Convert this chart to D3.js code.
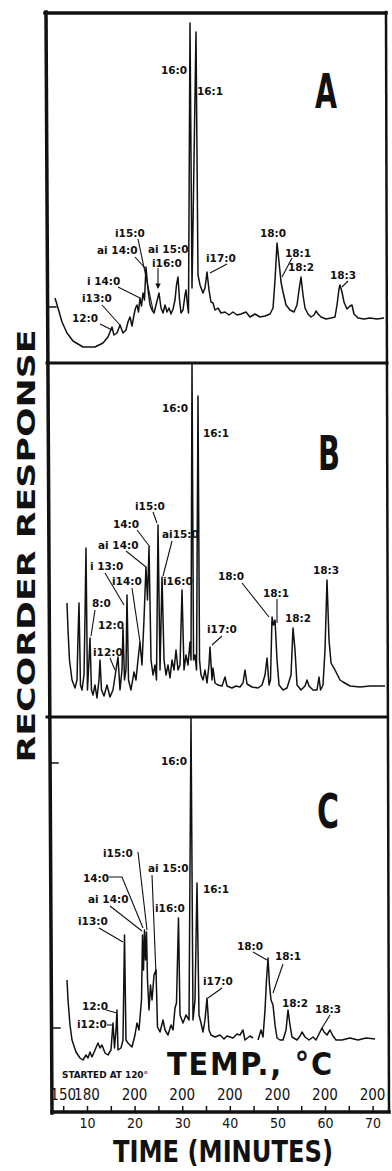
<!DOCTYPE html>
<html>
<head>
<meta charset="utf-8">
<script src="https://cdn.jsdelivr.net/npm/d3@7"></script>
<style>
  body { margin: 0; background: #fff; }
  .lab { font-family: "DejaVu Sans", sans-serif; font-weight: bold; font-size: 10.5px; fill: #111; }
  .heavy { font-family: "DejaVu Sans Condensed", "Liberation Sans Narrow", sans-serif; font-weight: bold; fill: #111; }
  .num { font-family: "DejaVu Sans Condensed", "DejaVu Sans", sans-serif; font-size: 14px; fill: #111; }
</style>
</head>
<body>
<svg id="chart" width="392" height="1171"></svg>
<script>
// retention time (minutes) and recorder response (chart units above each panel floor)
const timesA = [3.28,3.91,4.75,5.80,7.06,9.16,11.68,13.36,14.41,14.83,15.25,15.67,16.30,16.93,17.56,18.19,18.61,19.03,19.45,19.87,20.19,20.50,20.82,21.13,21.45,21.76,22.08,22.39,22.82,23.24,23.66,24.08,24.50,25.13,25.55,25.97,26.39,26.81,27.23,27.65,28.07,28.49,28.80,29.12,29.44,29.75,30.17,30.59,30.80,31.11,31.32,31.64,32.06,32.90,33.32,33.74,34.37,34.79,35.21,35.63,36.05,36.47,36.89,37.52,38.15,38.99,39.83,40.67,41.51,42.35,43.40,44.24,45.29,46.35,47.40,48.45,49.08,49.50,49.92,50.34,50.76,51.18,51.81,52.65,53.49,54.12,54.54,54.96,55.38,55.80,56.43,57.06,57.69,58.11,58.53,59.16,60.21,61.26,62.10,62.52,62.94,63.15,63.57,63.99,64.62,65.25,65.67,66.09,66.93,68.19,69.45,70.92,72.40];
const respA = [65,55,41,30,22,16,16,20,26,31,36,28,30,38,30,33,41,46,37,48,55,58,51,65,57,70,63,96,73,58,53,50,58,70,55,50,58,51,55,49,54,63,78,86,63,50,53,68,73,58,50,340,75,331,88,78,70,75,91,73,61,60,53,55,50,51,48,51,48,49,51,46,49,46,47,49,55,83,120,101,81,71,58,53,51,58,73,86,68,55,49,46,48,52,49,46,44,45,46,58,74,78,71,61,54,57,58,49,45,44,45,44,45];

const timesB = [5.80,6.01,6.32,6.85,7.48,7.90,8.11,8.32,8.63,8.95,9.37,9.58,9.79,10.10,10.42,10.63,10.94,11.26,11.68,12.10,12.52,12.73,13.05,13.57,14.20,14.83,15.46,16.09,16.51,16.93,17.35,17.56,17.88,18.19,18.40,18.72,19.24,19.87,20.29,20.71,21.13,21.55,21.97,22.39,22.71,23.03,23.45,23.87,24.29,24.60,24.92,25.34,25.76,26.18,26.60,27.02,27.44,27.86,28.28,28.70,29.12,29.54,29.96,30.38,30.80,31.22,31.64,31.85,32.06,32.38,32.69,33.01,33.32,33.64,33.95,34.37,34.79,35.21,35.63,35.84,36.26,36.47,36.89,37.52,38.36,38.99,39.41,40.46,41.30,42.14,42.77,43.19,43.61,44.67,45.93,46.77,47.40,47.82,48.24,48.55,48.87,49.18,49.50,49.92,50.34,51.18,52.02,52.86,53.28,53.70,54.12,54.96,55.80,56.22,56.64,57.48,58.32,58.74,59.06,59.58,60.00,60.42,60.84,61.27,62.10,63.16,63.79,65.26,67.36,69.46,72.61];
const respB = [114,87,57,37,29,37,80,114,32,27,42,100,169,27,57,79,27,22,32,19,37,57,27,21,32,20,27,47,60,27,47,89,37,47,122,37,27,45,37,57,75,52,97,150,117,170,57,42,52,37,192,47,140,57,42,52,39,57,47,67,47,52,127,47,62,52,75,57,354,57,62,47,321,57,42,37,47,34,52,70,37,49,34,32,31,40,31,29,31,30,34,47,33,30,29,32,42,59,32,37,100,92,97,57,32,27,29,42,89,67,32,27,31,37,31,27,27,40,27,32,67,137,77,54,47,37,35,31,30,31,31];

// null = pen lifted
const timesC = [5.80,6.01,6.43,6.85,7.69,8.53,9.16,9.79,10.21,10.63,11.05,11.68,12.31,12.73,13.15,13.78,14.41,15.04,15.46,15.78,16.09,16.30,16.51,17.14,17.56,17.88,18.19,18.61,19.45,20.08,20.50,20.92,21.13,21.45,21.66,21.87,22.08,22.29,22.50,22.71,23.03,23.34,23.66,24.08,24.50,24.81,25.34,25.97,26.39,27.02,27.65,28.07,28.49,28.80,29.22,29.54,30.17,30.80,31.43,31.85,32.27,32.69,33.11,33.53,33.95,34.37,34.79,35.21,35.63,36.05,36.89,37.94,38.78,39.41,40.67,41.51,42.14,42.77,43.19,44.24,44.88,45.40,45.93,46.56,46.98,47.40,47.71,48.03,48.34,48.66,49.08,49.50,49.92,50.55,51.18,51.81,52.23,52.65,53.07,54.12,54.75,55.17,55.80,56.64,57.48,58.11,58.95,59.37,59.79,60.42,61.05,61.68,62.31,63.57,65.25,66.94,68.62,70.51];
const respC = [132,112,87,72,60,54,52,57,54,60,55,62,69,64,67,59,57,62,89,64,82,102,62,64,72,177,72,69,65,77,89,82,94,112,177,142,182,152,180,132,102,127,112,137,142,85,80,92,82,77,87,82,104,109,194,97,89,97,92,395,92,112,229,97,89,80,92,114,82,77,75,77,73,76,74,78,77,82,72,76,74,null,72,82,75,102,132,154,127,112,107,87,74,72,72,82,102,87,75,72,76,80,75,72,75,72,80,84,80,77,82,76,72,72,74,72,74,73];

const timeTicks = [5,10,15,20,25,30,35,40,45,50,55,60,65,70];
const timeLabels = [10,20,30,40,50,60,70];
const tempTimes = [5,10,20,30,40,50,60,70];
const tempLabels = ["150","180","200","200","200","200","200","200"];
const panelLetters = ["A","B","C"];

// peak annotations: [text, x, y, anchor, pointer points, arrow]
const notesA = [
  ["16:0",187,74,"end"],["16:1",197,95,"start"],
  ["i15:0",115,237,"start",[[138,239],[153,310]]],
  ["ai 14:0",97,254,"start",[[135,257],[145,268]]],
  ["ai 15:0",148,253,"start",[[158,268],[158,288]],true],
  ["i16:0",152,267,"start"],
  ["i17:0",206,262,"start",[[227,264],[210,273]]],
  ["i 14:0",87,285,"start",[[118,287],[140,298]]],
  ["i13:0",82,302,"start",[[102,305],[120,325]]],
  ["12:0",72,322,"start",[[100,324],[112,330]]],
  ["18:0",260,237,"start"],
  ["18:1",285,257,"start",[[292,258],[282,277]]],
  ["18:2",288,271,"start"],
  ["18:3",330,279,"start",[[348,281],[342,287]]]
];
const notesB = [
  ["16:0",188,412,"end"],["16:1",203,437,"start"],
  ["i15:0",135,510,"start",[[153,512],[157,523]]],
  ["14:0",113,528,"start",[[137,530],[150,547]]],
  ["ai15:0",162,538,"start",[[172,541],[163,576]]],
  ["ai 14:0",98,549,"start",[[126,551],[146,567]]],
  ["i 13:0",90,570,"start",[[105,573],[124,605]]],
  ["i14:0",112,585,"start",[[132,588],[140,642]]],
  ["i16:0",163,585,"start"],
  ["8:0",92,607,"start",[[95,610],[91,636]]],
  ["12:0",98,629,"start"],
  ["i12:0",93,656,"start",[[110,658],[115,670]]],
  ["i17:0",207,633,"start",[[222,636],[212,645]]],
  ["18:0",218,580,"start",[[242,583],[269,617]]],
  ["18:1",263,597,"start",[[277,599],[277,623]]],
  ["18:2",285,622,"start"],
  ["18:3",313,574,"start"]
];
const notesC = [
  ["16:0",187,765,"end"],["16:1",203,893,"start"],
  ["i15:0",103,857,"start",[[138,852],[147,930]]],
  ["ai 15:0",148,872,"start",[[152,875],[156,975]]],
  ["14:0",83,882,"start",[[109,877],[122,877],[143,928]]],
  ["ai 14:0",88,903,"start",[[110,906],[142,931]]],
  ["i16:0",155,912,"start"],
  ["i13:0",78,925,"start",[[99,928],[123,942]]],
  ["18:0",237,950,"start",[[253,952],[267,960]]],
  ["18:1",275,960,"start",[[283,964],[273,993]]],
  ["i17:0",203,985,"start",[[222,988],[208,998]]],
  ["18:2",282,1007,"start"],
  ["18:3",315,1013,"start",[[330,1015],[322,1028]]],
  ["12:0",82,1010,"start",[[106,1010],[117,1013]]],
  ["i12:0",77,1028,"start",[[107,1025],[113,1025]]]
];

const svg = d3.select("#chart");
const ink = "#111";

svg.append("defs").append("marker")
  .attr("id", "arrow").attr("viewBox", "0 0 6 6").attr("refX", 5).attr("refY", 3)
  .attr("markerWidth", 5).attr("markerHeight", 5).attr("orient", "auto")
  .append("path").attr("d", "M0,0L6,3L0,6Z").attr("fill", ink);

const x = d3.scaleLinear().domain([10, 70]).range([87, 372.6]);

const panels = [
  { times: timesA, resp: respA, top: 13, bottom: 363, notes: notesA, letterX: 326, letterY: 108 },
  { times: timesB, resp: respB, top: 363, bottom: 717, notes: notesB, letterX: 329, letterY: 470 },
  { times: timesC, resp: respC, top: 717, bottom: 1112, notes: notesC, letterX: 328, letterY: 828 }
];

const pointerLine = d3.line();

panels.forEach((p, i) => {
  const y = d3.scaleLinear().domain([0, p.bottom - p.top]).range([p.bottom, p.top]);
  const pts = p.times.map((t, j) => [t, p.resp[j]]);
  const line = d3.line()
    .defined(d => d[1] != null)
    .x(d => x(d[0]))
    .y(d => y(d[1]));

  const g = svg.append("g");
  g.append("path")
    .datum(pts)
    .attr("d", line)
    .attr("fill", "none")
    .attr("stroke", ink)
    .attr("stroke-width", 1.5)
    .attr("stroke-linejoin", "round");

  g.selectAll("text.lab")
    .data(p.notes)
    .join("text")
    .attr("class", "lab")
    .attr("x", d => d[1])
    .attr("y", d => d[2])
    .attr("text-anchor", d => d[3])
    .text(d => d[0]);

  g.selectAll("path.ptr")
    .data(p.notes.filter(d => d[4]))
    .join("path")
    .attr("class", "ptr")
    .attr("d", d => pointerLine(d[4]))
    .attr("fill", "none")
    .attr("stroke", ink)
    .attr("stroke-width", 1.1)
    .attr("marker-end", d => d[5] ? "url(#arrow)" : null);

  g.append("text")
    .attr("class", "heavy")
    .attr("x", p.letterX)
    .attr("y", p.letterY)
    .attr("text-anchor", "middle")
    .attr("font-size", 48)
    .attr("textLength", 22)
    .attr("lengthAdjust", "spacingAndGlyphs")
    .text(panelLetters[i]);
});

// frame
const frame = svg.append("g").attr("stroke", ink).attr("fill", "none").attr("stroke-linecap", "square");
frame.append("line").attr("x1", 45).attr("y1", 13).attr("x2", 386).attr("y2", 13).attr("stroke-width", 3.5);
frame.append("line").attr("x1", 46).attr("y1", 12).attr("x2", 52).attr("y2", 1113).attr("stroke-width", 3.5);
frame.append("line").attr("x1", 386).attr("y1", 12).attr("x2", 389).attr("y2", 1112).attr("stroke-width", 2.5);
[363, 717].forEach(yy => {
  frame.append("line").attr("x1", 47).attr("y1", yy).attr("x2", 387).attr("y2", yy).attr("stroke-width", 3);
});
frame.append("line").attr("x1", 52).attr("y1", 1112).attr("x2", 389).attr("y2", 1112).attr("stroke-width", 3.5);
[[48, 307], [50, 763], [52, 1028]].forEach(([xx, yy]) => {
  frame.append("line").attr("x1", xx).attr("y1", yy).attr("x2", xx + 8).attr("y2", yy).attr("stroke-width", 1.5);
});

// time axis: ticks point up, labels below
const tickAxis = svg.append("g")
  .attr("transform", "translate(0,1112)")
  .call(d3.axisTop(x).tickValues(timeTicks).tickSizeInner(6).tickSizeOuter(0).tickFormat(""));
tickAxis.select(".domain").remove();
tickAxis.selectAll(".tick line").attr("stroke", ink).attr("stroke-width", 1.5);

const labAxis = svg.append("g")
  .attr("transform", "translate(0,1112)")
  .call(d3.axisBottom(x).tickValues(timeLabels).tickSize(0).tickPadding(6));
labAxis.select(".domain").remove();
labAxis.selectAll("text")
  .attr("class", "num")
  .attr("font-family", null).attr("font-size", null)
  .style("font-size", "14px");

svg.append("g").selectAll("text")
  .data(tempLabels)
  .join("text")
  .attr("class", "num")
  .style("font-size", "15px")
  .attr("x", (d, i) => x(tempTimes[i]))
  .attr("y", 1100)
  .attr("text-anchor", "middle")
  .text(d => d);

svg.append("text")
  .attr("class", "heavy")
  .attr("x", 62).attr("y", 1078)
  .attr("font-size", 8)
  .attr("textLength", 86)
  .attr("lengthAdjust", "spacingAndGlyphs")
  .text("STARTED AT 120°");

svg.append("text")
  .attr("class", "heavy")
  .attr("x", 167).attr("y", 1075)
  .attr("font-size", 32)
  .attr("textLength", 165)
  .attr("lengthAdjust", "spacing")
  .text("TEMP., °C");

svg.append("text")
  .attr("class", "heavy")
  .attr("x", 113).attr("y", 1162)
  .attr("font-size", 30)
  .attr("textLength", 220)
  .attr("lengthAdjust", "spacingAndGlyphs")
  .text("TIME (MINUTES)");

svg.append("text")
  .attr("class", "heavy")
  .attr("transform", "translate(35,546) rotate(-90)")
  .attr("text-anchor", "middle")
  .attr("font-size", 25)
  .attr("textLength", 433)
  .attr("lengthAdjust", "spacingAndGlyphs")
  .text("RECORDER RESPONSE");
</script>
</body>
</html>
